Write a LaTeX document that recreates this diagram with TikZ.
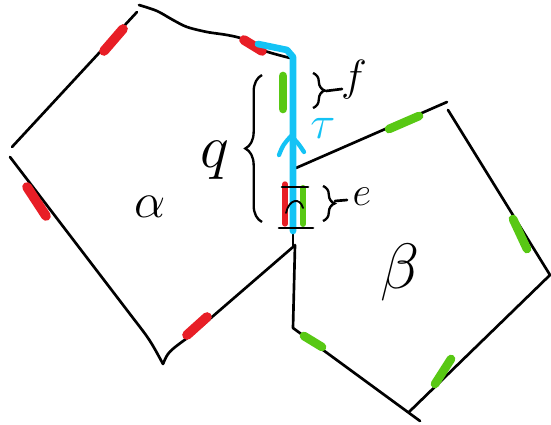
\documentclass[tikz,border=0pt]{standalone}
\usetikzlibrary{decorations.pathreplacing, arrows.meta, calc}
\definecolor{markred}{RGB}{232,30,38}
\definecolor{markgreen}{RGB}{88,200,20}
\definecolor{walkblue}{RGB}{20,195,245}

\begin{document}
\begin{tikzpicture}[x=0.3mm, y=-0.3mm,
	side/.style={line width=0.8mm, line cap=round, line join=round},
	redmark/.style={line width=2.9mm, markred, line cap=round},
	greenmark/.style={line width=2.6mm, markgreen, line cap=round},
	walk/.style={line width=2mm, walkblue, line cap=round, line join=round},
	hbrace/.style={decorate, decoration={brace, amplitude=#1}, line width=0.7mm},
	hand/.style={font=\Huge, inner sep=0pt}]
	\useasboundingbox (0,0) rectangle (551,425);
	% alpha, five sides
	\draw[side] plot[smooth] coordinates {(139,5) (157,11) (173,20) (187,27) (207,32) (227,35) (243,39) (262,50) (290,58)};
	\draw[side] (137,12) -- (12,147);
	\draw[side] (10,157) -- (133,318) .. controls (150,340) .. (163,364);
	\draw[side] (163,364) .. controls (168,352) .. (190,336) -- (293,247);
	\draw[side] (293,57) -- (293,247);
	% beta, five sides
	\draw[side] (296,168) -- (447,102);
	\draw[side] (448,110) -- (550,275) -- (409,412);
	\draw[side] (295,245) -- (293,328) -- (420,421);
	% red marks on alpha
	\draw[redmark] (123,29) -- (104,51);
	\draw[redmark] (244,40) -- (262,51);
	\draw[redmark] (27,187) -- (46,216);
	\draw[redmark] (187,335) -- (207,317);
	\draw[redmark, line width=1.6mm] (285,184) -- (285,224);
	% green marks
	\draw[greenmark] (283,76) -- (283,109);
	\draw[greenmark, line width=1.8mm] (303,188) -- (303,224);
	\draw[greenmark] (389,129) -- (419,116);
	\draw[greenmark] (513,219) -- (527,249);
	\draw[greenmark] (451,359) -- (435,384);
	\draw[greenmark] (304,336) -- (322,347);
	% tau
	\draw[walk] (258,44) -- (287,50) -- (293,57) -- (293,231);
	\draw[walk, line width=1.3mm] (279,155) .. controls (283,145) .. (291,136) .. controls (298,143) .. (304,152);
	\node[hand, walkblue, scale=1.6] (taulabel) at (323,128) {$\tau$};
	% e, between the bars
	\draw[side] (282,187) -- (308,187);
	\draw[side] (279,228) -- (313,228);
	\draw[side, line width=0.55mm] (286,213) .. controls (289,199) and (300,197) .. (303,208);
	% braces
	\draw[hbrace=5mm] (262,222) -- (262,75);
	\draw[hbrace=3.5mm] (313,73) -- (313,108);
	\draw[side] (326,91) -- (342,89);
	\draw[hbrace=3.5mm] (323,186) -- (323,221);
	\draw[side] (335,201) -- (347,200);
	% labels
	\node[hand, scale=1.7] (alpha) at (150,207) {$\alpha$};
	\node[hand, scale=2.2] (beta) at (400,272) {$\beta$};
	\node[hand, scale=2.1] (qlabel) at (215,160) {$q$};
	\node[hand, scale=1.5] (flabel) at (354,80) {$f$};
	\node[hand, scale=1.4] (elabel) at (362,197) {$e$};
\end{tikzpicture}
\end{document}
